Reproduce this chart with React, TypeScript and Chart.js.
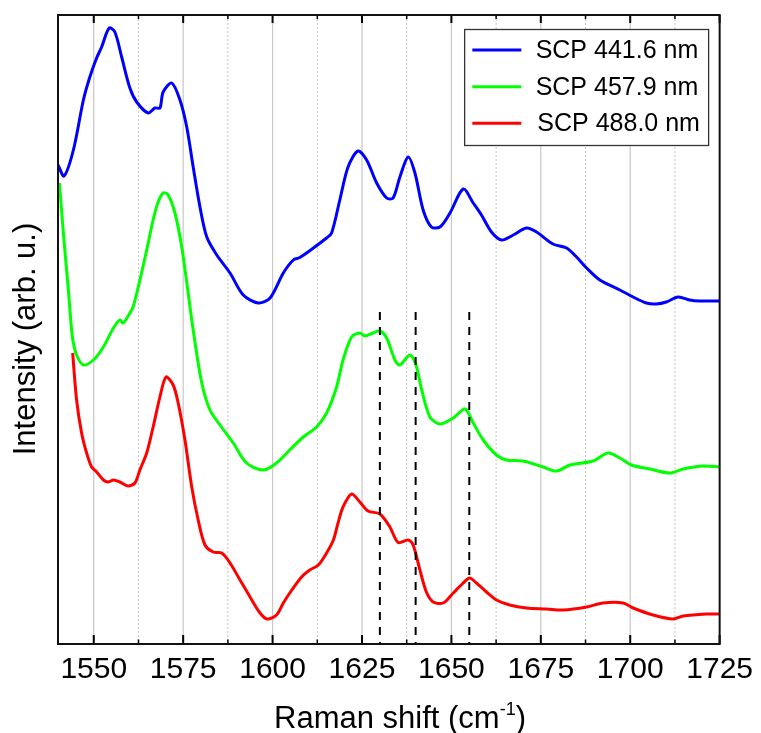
import React, { useEffect, useRef } from "react";
import { Chart, registerables } from "chart.js";

Chart.register(...registerables);

// ---- Data ----
const seriesLabels = ["SCP 441.6 nm", "SCP 457.9 nm", "SCP 488.0 nm"];
const seriesColors = ["#0000ff", "#00ff00", "#ff0000"];

const blueShift = [1540.0, 1541.7, 1544.3, 1547.1, 1548.9, 1550.8, 1552.2, 1554.3, 1555.9, 1557.8, 1560.1, 1562.0, 1565.2, 1567.1, 1568.5, 1569.4, 1571.8, 1574.1, 1576.0, 1577.8, 1579.7, 1581.6, 1584.4, 1588.1, 1591.8, 1596.0, 1599.3, 1603.0, 1605.8, 1607.6, 1611.4, 1615.1, 1616.5, 1618.8, 1621.1, 1623.9, 1626.3, 1629.1, 1631.9, 1633.7, 1635.6, 1637.9, 1639.8, 1642.1, 1644.4, 1646.8, 1649.6, 1653.3, 1656.1, 1658.4, 1661.2, 1664.0, 1667.3, 1671.0, 1673.8, 1678.4, 1682.2, 1685.0, 1687.8, 1691.5, 1697.1, 1700.8, 1704.5, 1707.3, 1710.1, 1713.4, 1716.6, 1719.4, 1725.0];
const blueIntensity = [479, 468, 494, 544, 567, 586, 597, 616, 612, 587, 556, 542, 531, 536, 536, 552, 561, 544, 517, 477, 437, 407, 389, 371, 349, 341, 346, 371, 384, 386.5, 396, 406, 411, 444, 477, 493, 484, 461, 446, 446, 467, 487, 471, 434, 417, 417, 431, 455, 441, 429, 412, 404, 409, 416, 412, 400, 396, 387, 376, 364, 354, 347, 341, 340, 342, 347, 344, 343, 343];

const greenShift = [1540.4, 1541.5, 1542.9, 1543.8, 1544.3, 1545.3, 1547.1, 1549.9, 1552.7, 1555.5, 1557.3, 1558.2, 1560.1, 1561.0, 1562.9, 1564.8, 1566.6, 1567.9, 1569.4, 1570.8, 1572.7, 1574.6, 1576.4, 1577.8, 1580.2, 1582.5, 1585.3, 1589.0, 1592.7, 1597.4, 1601.1, 1604.8, 1608.6, 1612.3, 1615.1, 1617.9, 1619.7, 1622.1, 1624.4, 1625.8, 1628.1, 1630.0, 1631.9, 1634.2, 1635.6, 1638.4, 1640.1, 1641.7, 1644.0, 1646.8, 1650.5, 1653.8, 1656.1, 1658.9, 1662.6, 1665.4, 1670.0, 1675.6, 1679.4, 1683.1, 1689.6, 1693.8, 1697.1, 1700.3, 1705.5, 1711.0, 1714.8, 1720.4, 1725.0];
const greenIntensity = [461, 411, 354, 314, 301, 288, 279, 284, 297, 316, 324, 321, 331, 337, 364, 394, 424, 441, 451, 449, 431, 397, 351, 314, 261, 234, 219, 201, 181, 174, 181, 194, 207, 217, 231, 257, 284, 307, 311, 308, 311, 313, 306, 284, 279, 289, 279, 254, 227, 220, 226, 235, 221, 204, 189, 184, 183, 177, 173, 179, 183, 191, 186, 179, 175, 171, 175, 178, 177];

const redShift = [1544.1, 1545.2, 1546.6, 1548.0, 1549.4, 1550.8, 1552.7, 1554.0, 1555.5, 1557.3, 1559.6, 1561.5, 1562.9, 1564.8, 1566.6, 1568.5, 1570.2, 1572.2, 1573.6, 1575.5, 1577.4, 1579.2, 1581.1, 1583.4, 1585.8, 1588.1, 1590.9, 1593.7, 1596.5, 1598.5, 1601.1, 1603.0, 1604.8, 1608.1, 1610.4, 1612.8, 1615.1, 1617.0, 1618.3, 1619.7, 1622.1, 1624.4, 1626.7, 1630.0, 1632.8, 1635.1, 1637.9, 1639.3, 1641.2, 1643.0, 1644.9, 1647.7, 1650.5, 1653.3, 1655.1, 1657.0, 1659.8, 1662.6, 1666.3, 1671.0, 1676.6, 1681.2, 1687.8, 1692.4, 1698.0, 1700.8, 1706.4, 1712.0, 1714.8, 1721.3, 1725.0];
const redIntensity = [291, 244, 211, 191, 177, 172, 164, 162, 164, 162, 158, 161, 174, 191, 217, 247, 267, 259, 241, 204, 157, 124, 99, 92, 91, 81, 64, 47, 31, 25, 29, 41, 51, 67, 74, 79, 91, 104, 121, 137, 150, 142, 133, 130, 117, 101.5, 104, 99, 74, 52, 42, 41, 51, 61, 66, 61, 52, 44, 39, 36, 35, 34, 37, 41, 41, 36, 29, 25, 28, 30, 30];

const markerShifts = [1630, 1640, 1655];
const markerTop = 332;

const majorTicks = [1550, 1575, 1600, 1625, 1650, 1675, 1700, 1725];
const minorTicks = [1562.5, 1587.5, 1612.5, 1637.5, 1662.5, 1687.5, 1712.5];

const xMin = 1540;
const xMax = 1725;
const yMin = 0;
const yMax = 629;

const FONT = "'Liberation Sans', Arial, Helvetica, sans-serif";

const toPoints = (xs: number[], ys: number[]) => xs.map((x, i) => ({ x, y: ys[i] }));

const decorPlugin = {
  id: "decor",
  beforeDatasetsDraw(chart: any) {
    const { ctx, chartArea, scales } = chart;
    const { top, bottom } = chartArea;
    const x = scales.x;
    ctx.save();
    ctx.lineWidth = 1.2;
    ctx.strokeStyle = "#c8c8c8";
    for (const v of majorTicks) {
      const px = x.getPixelForValue(v);
      ctx.beginPath();
      ctx.moveTo(px, top);
      ctx.lineTo(px, bottom);
      ctx.stroke();
    }
    ctx.setLineDash([2, 2]);
    ctx.lineWidth = 1;
    ctx.strokeStyle = "#c4c4c4";
    for (const v of minorTicks) {
      const px = x.getPixelForValue(v);
      ctx.beginPath();
      ctx.moveTo(px, top);
      ctx.lineTo(px, bottom);
      ctx.stroke();
    }
    ctx.restore();
  },
  afterDatasetsDraw(chart: any) {
    const { ctx, chartArea, scales } = chart;
    const { left, right, top, bottom } = chartArea;
    const x = scales.x;
    ctx.save();
    // ticks (inward)
    ctx.strokeStyle = "#000";
    ctx.lineWidth = 2;
    for (const v of majorTicks) {
      const px = x.getPixelForValue(v);
      ctx.beginPath();
      ctx.moveTo(px, bottom);
      ctx.lineTo(px, bottom - 9);
      ctx.moveTo(px, top);
      ctx.lineTo(px, top + 8);
      ctx.stroke();
    }
    ctx.lineWidth = 1.5;
    for (const v of minorTicks) {
      const px = x.getPixelForValue(v);
      ctx.beginPath();
      ctx.moveTo(px, bottom);
      ctx.lineTo(px, bottom - 4.5);
      ctx.moveTo(px, top);
      ctx.lineTo(px, top + 4);
      ctx.stroke();
    }
    // frame
    ctx.lineWidth = 2;
    ctx.strokeStyle = "#111";
    ctx.strokeRect(left, top, right - left, bottom - top);

    // legend
    const bx = right - 255;
    const by = top + 14.5;
    const bw = 244;
    const bh = 116;
    ctx.fillStyle = "#fff";
    ctx.fillRect(bx, by, bw, bh);
    ctx.lineWidth = 1.3;
    ctx.strokeStyle = "#333";
    ctx.strokeRect(bx, by, bw, bh);
    const rows = [35, 71.7, 108.3];
    ctx.font = `25px ${FONT}`;
    ctx.textBaseline = "alphabetic";
    ctx.textAlign = "left";
    chart.data.datasets.slice(0, 3).forEach((ds: any, i: number) => {
      const ly = top + rows[i];
      ctx.strokeStyle = ds.borderColor;
      ctx.lineWidth = 3;
      ctx.beginPath();
      ctx.moveTo(right - 247.3, ly);
      ctx.lineTo(right - 198.3, ly);
      ctx.stroke();
      ctx.fillStyle = "#000";
      ctx.fillText(ds.label, right - 184 + (i === 2 ? 1.7 : 0), ly + 7.8);
    });
    ctx.restore();
  },
  afterDraw(chart: any) {
    const { ctx, chartArea } = chart;
    const { top, bottom } = chartArea;
    ctx.save();
    ctx.fillStyle = "#000";
    // x title with superscript
    const main = "Raman shift (cm";
    const sup = "-1";
    const close = ")";
    ctx.font = `31px ${FONT}`;
    const wMain = ctx.measureText(main).width;
    const wClose = ctx.measureText(close).width;
    ctx.font = `18px ${FONT}`;
    const wSup = ctx.measureText(sup).width;
    const total = wMain + wSup + wClose;
    const cx = 400;
    let sx = cx - total / 2;
    const baseY = 728;
    ctx.textBaseline = "alphabetic";
    ctx.textAlign = "left";
    ctx.font = `31px ${FONT}`;
    ctx.fillText(main, sx, baseY);
    sx += wMain;
    ctx.font = `18px ${FONT}`;
    ctx.fillText(sup, sx, baseY - 13);
    sx += wSup;
    ctx.font = `31px ${FONT}`;
    ctx.fillText(close, sx, baseY);

    // y title
    ctx.translate(35, (top + bottom) / 2 + 9.5);
    ctx.rotate(-Math.PI / 2);
    ctx.textAlign = "center";
    ctx.font = `31px ${FONT}`;
    ctx.fillText("Intensity (arb. u.)", 0, 0);
    ctx.restore();
  },
};

export default function App() {
  const ref = useRef<HTMLCanvasElement | null>(null);
  useEffect(() => {
    if (!ref.current) return;
    const lineDs = (i: number, xs: number[], ys: number[]) => ({
      label: seriesLabels[i],
      data: toPoints(xs, ys),
      borderColor: seriesColors[i],
      backgroundColor: seriesColors[i],
      borderWidth: 3,
      pointRadius: 0,
      tension: 0.3,
      fill: false,
      order: 1,
    });
    const markerDs = markerShifts.map((m) => ({
      label: "",
      data: [
        { x: m, y: markerTop },
        { x: m, y: yMin },
      ],
      borderColor: "#000",
      borderWidth: 2,
      borderDash: [8, 7],
      pointRadius: 0,
      tension: 0,
      fill: false,
      order: -1,
    }));
    const chart = new Chart(ref.current, {
      type: "line",
      data: {
        datasets: [
          lineDs(0, blueShift, blueIntensity),
          lineDs(1, greenShift, greenIntensity),
          lineDs(2, redShift, redIntensity),
          ...markerDs,
        ] as any,
      },
      options: {
        animation: false,
        responsive: false,
        devicePixelRatio: 1,
        layout: { padding: { left: 58, right: 41, top: 15, bottom: 37 } },
        plugins: { legend: { display: false }, tooltip: { enabled: false } },
        scales: {
          x: {
            type: "linear",
            min: xMin,
            max: xMax,
            afterBuildTicks: (scale: any) => {
              scale.ticks = majorTicks.map((v) => ({ value: v }));
            },
            grid: { display: false, drawTicks: false },
            border: { display: false },
            ticks: {
              autoSkip: false,
              maxRotation: 0,
              padding: 8,
              color: "#000",
              font: { size: 30, family: FONT },
              callback: (v: any) => String(v),
            },
          },
          y: {
            type: "linear",
            display: false,
            min: yMin,
            max: yMax,
          },
        },
      },
      plugins: [decorPlugin],
    });
    return () => chart.destroy();
  }, []);
  return (
    <div style={{ position: "fixed", left: 0, top: 0, width: 761, height: 733, background: "#fff" }}>
      <canvas ref={ref} width={761} height={733} style={{ display: "block" }} />
    </div>
  );
}
